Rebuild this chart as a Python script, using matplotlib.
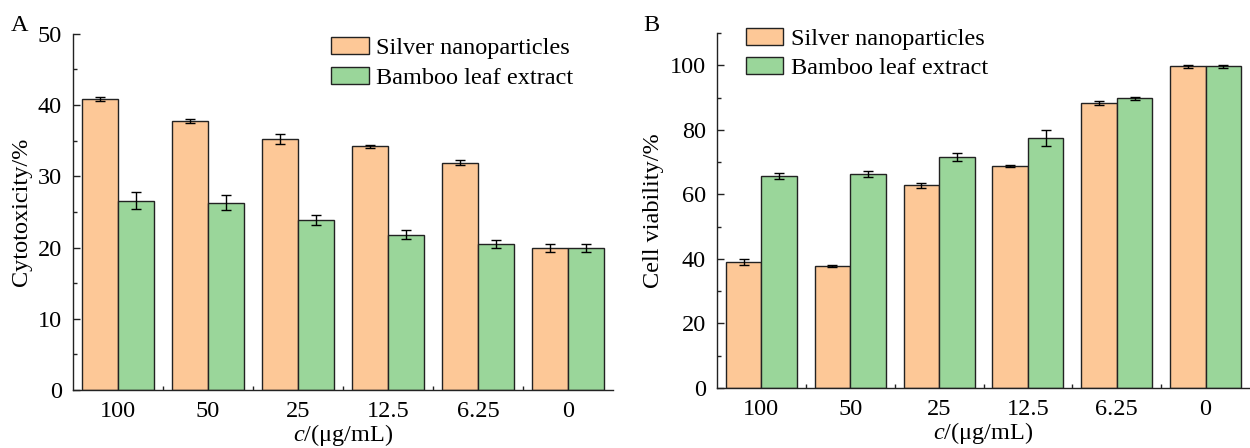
import numpy as np
import matplotlib
matplotlib.use('Agg')
import matplotlib.pyplot as plt
from matplotlib.ticker import MultipleLocator, FixedLocator

plt.rcParams['font.family'] = 'Liberation Serif'
plt.rcParams['mathtext.fontset'] = 'custom'
plt.rcParams['mathtext.it'] = 'Liberation Serif:italic'
plt.rcParams['mathtext.rm'] = 'Liberation Serif'

# Data
concentrations = ['100', '50', '25', '12.5', '6.25', '0']
series_names = ['Silver nanoparticles', 'Bamboo leaf extract']

cyto_silver = [40.9, 37.8, 35.2, 34.2, 31.9, 19.9]
cyto_silver_err = [0.3, 0.3, 0.7, 0.2, 0.35, 0.55]
cyto_bamboo = [26.6, 26.3, 23.8, 21.8, 20.5, 19.9]
cyto_bamboo_err = [1.2, 1.1, 0.7, 0.6, 0.6, 0.55]

viab_silver = [39.1, 37.9, 62.8, 68.7, 88.4, 99.7]
viab_silver_err = [1.0, 0.3, 0.8, 0.3, 0.6, 0.5]
viab_bamboo = [65.8, 66.4, 71.7, 77.6, 89.8, 99.7]
viab_bamboo_err = [0.9, 1.0, 1.2, 2.5, 0.5, 0.5]

orange = '#FDC897'
green = '#9AD69A'
edge = '#222222'
fs = 17.5

fig = plt.figure(figsize=(12.5, 4.48), dpi=100)
axA = fig.add_axes([0.0584, 0.1295, 0.432, 0.795])
axB = fig.add_axes([0.5736, 0.134, 0.4264, 0.792])

x = np.arange(len(concentrations))
w = 0.4


def draw(ax, s, se, b, be, ylim, ystep, ylabel):
    ax.bar(x - w / 2, s, w, color=orange, edgecolor=edge, linewidth=1,
           label=series_names[0], zorder=2)
    ax.bar(x + w / 2, b, w, color=green, edgecolor=edge, linewidth=1,
           label=series_names[1], zorder=2)
    ax.errorbar(x - w / 2, s, yerr=se, fmt='none', ecolor='black',
                elinewidth=1, capsize=3.5, capthick=1, zorder=3)
    ax.errorbar(x + w / 2, b, yerr=be, fmt='none', ecolor='black',
                elinewidth=1, capsize=3.5, capthick=1, zorder=3)
    ax.set_xlim(-0.5, 5.5)
    ax.set_ylim(*ylim)
    ax.set_xticks(x)
    ax.set_xticklabels(concentrations)
    ax.xaxis.set_minor_locator(FixedLocator(np.arange(0.5, 5.0, 1)))
    ax.yaxis.set_major_locator(MultipleLocator(ystep))
    ax.yaxis.set_minor_locator(MultipleLocator(ystep / 2))
    ax.tick_params(axis='x', which='major', length=0, pad=8, labelsize=fs)
    ax.tick_params(axis='x', which='minor', direction='in', length=3,
                   width=1, color=edge)
    ax.tick_params(axis='y', which='major', direction='in', length=5,
                   width=1, color=edge, labelsize=fs, pad=8)
    ax.tick_params(axis='y', which='minor', direction='in', length=3,
                   width=1, color=edge)
    for sp in ['top', 'right']:
        ax.spines[sp].set_visible(False)
    for sp in ['left', 'bottom']:
        ax.spines[sp].set_color(edge)
        ax.spines[sp].set_linewidth(1)
    ax.set_xlabel(r'$\it{c}$/(μg/mL)', fontsize=fs, labelpad=0)
    ax.set_ylabel(ylabel, fontsize=fs, labelpad=4)


draw(axA, cyto_silver, cyto_silver_err, cyto_bamboo, cyto_bamboo_err,
     (0, 50), 10, 'Cytotoxicity/%')
draw(axB, viab_silver, viab_silver_err, viab_bamboo, viab_bamboo_err,
     (0, 110), 20, 'Cell viability/%')

leg_kw = dict(frameon=False, fontsize=fs, handlelength=1.55, handleheight=0.7,
              handletextpad=0.3, labelspacing=0.3, borderpad=0,
              borderaxespad=0)
axA.legend(loc='upper left', bbox_to_anchor=(0.478, 0.99), **leg_kw)
axB.legend(loc='upper left', bbox_to_anchor=(0.054, 1.015), **leg_kw)

fig.text(0.009, 0.93, 'A', fontsize=fs)
fig.text(0.515, 0.93, 'B', fontsize=fs)

fig.savefig('out.png', dpi=100)
